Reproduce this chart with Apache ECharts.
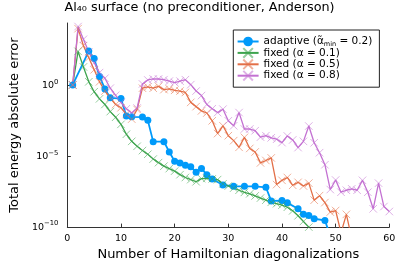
<!DOCTYPE html>
<html><head><meta charset="utf-8">
<script src="https://cdn.jsdelivr.net/npm/echarts@6/dist/echarts.min.js"></script>
<style>html,body{margin:0;padding:0;background:#fff}#c{width:399px;height:266px}</style>
</head><body><div id="c"></div>
<script>
// ---- text ----
const chartTitle = 'Al\u2084\u2080 surface (no preconditioner, Anderson)';
const xAxisTitle = 'Number of Hamiltonian diagonalizations';
const yAxisTitle = 'Total energy absolute error';
const seriesNames = ['adaptive (\u03b1\u0303min = 0.2)', 'fixed (\u03b1 = 0.1)', 'fixed (\u03b1 = 0.5)', 'fixed (\u03b1 = 0.8)'];
const seriesColors = ['#009AFA', '#3EA44E', '#E36F47', '#C371D2'];

// ---- ticks ----
const xTicks = [0, 10, 20, 30, 40, 50, 60];
const yTickExponents = [-10, -5, 0];
const yTopExponent = 4.4;

// ---- data (errors read as log10 values) ----
const adaptiveX = [1, 4, 5, 6, 7, 8, 10, 11, 12, 14, 15, 16, 18, 19, 20, 21, 22, 23, 24, 25, 26, 27, 29, 31, 33, 35, 37, 38, 40, 41, 43, 44, 45, 46, 48, 49];
const adaptiveLog10 = [0.03, 2.42, 1.9, 0.63, -0.25, -0.88, -0.93, -2.17, -2.22, -2.24, -2.47, -3.97, -3.97, -4.7, -5.35, -5.48, -5.63, -5.74, -6.13, -5.87, -6.3, -6.61, -7.03, -7.12, -7.12, -7.12, -7.19, -8.15, -8.13, -8.29, -8.71, -9.1, -9.18, -9.41, -9.53, -10.6];

// fixed damping: one point per diagonalization, starting at 1
const fixed01Log10 = [0.03, 2.4, 1.3, 0.25, -0.45, -0.95, -1.35, -1.85, -2.25, -2.75, -3.45, -3.95, -4.3, -4.6, -4.86, -5.2, -5.45, -5.7, -5.87, -6.05, -6.3, -6.5, -6.65, -6.8, -6.58, -6.56, -6.6, -6.65, -6.95, -7.1, -7.25, -7.4, -7.55, -7.65, -7.8, -7.95, -8.1, -8.25, -8.35, -8.45, -8.6, -8.85, -9.2, -9.6, -10.0];
const fixed05Log10 = [0.03, 4.0, 2.8, 1.95, 1.1, 0.25, -0.4, -0.88, -1.35, -1.58, -2.05, -2.38, -1.7, -0.2, -0.1, -0.2, -0.07, -0.3, -0.25, -0.35, -0.4, -0.5, -1.2, -1.5, -1.8, -1.95, -2.5, -3.4, -2.85, -3.55, -3.9, -4.37, -3.67, -4.45, -4.7, -5.47, -5.3, -5.12, -7.0, -6.7, -6.5, -7.05, -6.84, -7.1, -6.9, -8.1, -7.78, -8.27, -8.94, -8.83, -10.4, -9.1, -10.8];
const fixed08Log10 = [0.03, 4.15, 3.25, 2.35, 1.6, 0.9, 0.5, -0.2, -0.7, -1.2, -1.65, -1.95, -1.6, 0.1, 0.38, 0.45, 0.45, 0.4, 0.3, 0.2, 0.3, 0.4, 0.05, -0.4, -0.72, -1.35, -1.65, -1.92, -1.68, -2.5, -2.85, -1.92, -3.08, -3.08, -3.2, -3.65, -3.55, -3.7, -3.8, -4.04, -3.57, -3.85, -4.39, -3.95, -2.87, -4.05, -4.75, -5.6, -7.35, -6.68, -7.54, -7.4, -7.3, -7.4, -6.7, -7.54, -8.71, -6.9, -8.55, -8.9];

const FONT = 'DejaVu Sans';
const toPoints = (xs, ls) => ls.map((l, i) => [xs ? xs[i] : i + 1, Math.pow(10, l)]);
const crossPath = 'path://M0 0L10 10M10 0L0 10';

function crossSeries(name, color, logs) {
  return {
    name, type: 'line', data: toPoints(null, logs),
    symbol: crossPath, symbolSize: 7.5, showSymbol: true,
    lineStyle: { color, width: 1.3 },
    itemStyle: { color: 'rgba(0,0,0,0)', borderColor: color, borderWidth: 1, opacity: 0.55 },
    emphasis: { disabled: true }, animation: false, clip: true
  };
}

const chart = echarts.init(document.getElementById('c'), null, { renderer: 'canvas' });
chart.setOption({
  animation: false,
  title: {
    text: chartTitle, left: 'center', top: 1, padding: 0,
    textStyle: { fontFamily: FONT, fontSize: 12.8, fontWeight: 'normal', color: '#000' }
  },
  grid: { left: 59.3, right: 9.7, top: 23, bottom: 37.7, containLabel: false },
  legend: {
    orient: 'vertical', left: 233.3, top: 30,
    padding: [5.5, 7, 5.5, 3.3], itemWidth: 21, itemHeight: 12, itemGap: -0.6,
    backgroundColor: '#fff', borderColor: '#222', borderWidth: 1, borderRadius: 0,
    selectedMode: false,
    textStyle: {
      fontFamily: FONT, fontSize: 10.5, color: '#000', lineHeight: 12,
      rich: { sub: { fontFamily: FONT, fontSize: 6.5, lineHeight: 12, verticalAlign: 'bottom', padding: [3, 0, 0, 0] } }
    },
    formatter: name => name.indexOf('min') >= 0 ? name.replace('min', '{sub|min}') : name,
    data: seriesNames
  },
  xAxis: {
    type: 'value', min: xTicks[0], max: xTicks[xTicks.length - 1], interval: 10,
    name: xAxisTitle, nameLocation: 'middle', nameGap: 17.5,
    nameTextStyle: { fontFamily: FONT, fontSize: 13, color: '#000' },
    axisLine: { show: true, lineStyle: { color: '#333', width: 1 } },
    axisTick: { show: true, inside: true, length: 3.5, lineStyle: { color: '#333' } },
    axisLabel: { fontFamily: FONT, fontSize: 9.5, color: '#000', margin: 6 },
    splitLine: { show: false }
  },
  yAxis: {
    type: 'log', logBase: 10, min: Math.pow(10, yTickExponents[0]), max: Math.pow(10, yTopExponent),
    name: yAxisTitle, nameLocation: 'middle', nameGap: 41, nameRotate: 90,
    nameTextStyle: { fontFamily: FONT, fontSize: 13, color: '#000' },
    axisLine: { show: true, lineStyle: { color: '#333', width: 1 } },
    axisTick: { show: true, inside: true, length: 3.5, lineStyle: { color: '#333' },
      customValues: yTickExponents.map(e => Math.pow(10, e)) },
    axisLabel: {
      customValues: yTickExponents.map(e => Math.pow(10, e)),
      margin: 9, color: '#000',
      formatter: v => {
        const e = Math.round(Math.log10(v));
        return '{b|10}{s|' + (e < 0 ? '\u2212' + (-e) : String(e)) + '}';
      },
      rich: {
        b: { fontFamily: FONT, fontSize: 9.5, lineHeight: 14, verticalAlign: 'middle', color: '#000' },
        s: { fontFamily: FONT, fontSize: 6.8, lineHeight: 7, verticalAlign: 'top', color: '#000' }
      }
    },
    splitLine: { show: false }, minorSplitLine: { show: false }
  },
  series: [
    {
      name: seriesNames[0], type: 'line', data: toPoints(adaptiveX, adaptiveLog10),
      symbol: 'circle', symbolSize: 7, showSymbol: true,
      lineStyle: { color: seriesColors[0], width: 1.8 },
      itemStyle: { color: seriesColors[0], borderWidth: 0 },
      emphasis: { disabled: true }, clip: true
    },
    crossSeries(seriesNames[1], seriesColors[1], fixed01Log10),
    crossSeries(seriesNames[2], seriesColors[2], fixed05Log10),
    crossSeries(seriesNames[3], seriesColors[3], fixed08Log10)
  ]
});
</script></body></html>
